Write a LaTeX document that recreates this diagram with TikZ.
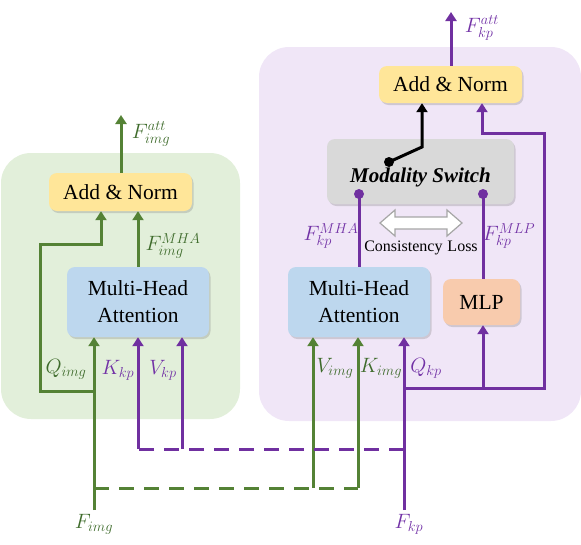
\documentclass[tikz,border=0pt]{standalone}
\usepackage{fontspec}
\setmainfont{Liberation Serif}
\usetikzlibrary{arrows.meta,shadows,calc}
\definecolor{gline}{HTML}{548235}
\definecolor{pline}{HTML}{7030A0}
\definecolor{gtext}{HTML}{3E6B2B}
\definecolor{ptext}{HTML}{7232A6}
\definecolor{gbg}{HTML}{E2EFDA}
\definecolor{pbg}{HTML}{F0E6F7}
\definecolor{yfill}{HTML}{FFE699}
\definecolor{bfill}{HTML}{BDD7EE}
\definecolor{ofill}{HTML}{F8CBAD}
\definecolor{sfill}{HTML}{D9D9D9}
\begin{document}
\begin{tikzpicture}[x=1pt,y=-1pt,
  box/.style={rounded corners=8pt, inner sep=0pt, align=center,
    font=\fontsize{21.5}{24}\selectfont,
    drop shadow={shadow xshift=1.5pt, shadow yshift=-2pt, opacity=0.3}},
  gl/.style={draw=gline, line width=3pt, line join=miter},
  pl/.style={draw=pline, line width=3pt, line join=miter},
  tip/.style={-{Triangle[width=11pt,length=9pt]}},
  gdash/.style={gl, dash pattern=on 15pt off 10pt},
  pdash/.style={pl, dash pattern=on 15pt off 10pt},
  glab/.style={text=gtext, font=\fontsize{21}{24}\selectfont, inner sep=0pt},
  plab/.style={text=ptext, font=\fontsize{21}{24}\selectfont, inner sep=0pt},
]
\useasboundingbox (0,0) rectangle (581,544);
% backgrounds
\fill[gbg, rounded corners=30pt] (1,153) rectangle (240,419);
\fill[pbg, rounded corners=30pt] (259,47) rectangle (581,421);

% boxes
\node[box, fill=yfill, minimum width=143pt, minimum height=38pt] (an1) at (120.5,192) {Add \& Norm};
\node[box, fill=bfill, minimum width=142pt, minimum height=70pt] (mha1) at (138,302) {Multi-Head\\[3pt]Attention};
\node[box, fill=yfill, minimum width=143pt, minimum height=37pt] (an2) at (450.5,84.5) {Add \& Norm};
\node[box, fill=sfill, minimum width=187pt, minimum height=65pt] (ms) at (420.5,171.5) {};
\node[font=\fontsize{21}{24}\selectfont\bfseries\itshape, inner sep=0pt] (mstext) at (420.5,177) {Modality Switch};
\node[box, fill=bfill, minimum width=142pt, minimum height=70pt] (mha2) at (359,302) {Multi-Head\\[3pt]Attention};
\node[box, fill=ofill, minimum width=77pt, minimum height=46pt] (mlp) at (481.5,302) {MLP};

% coordinates
\coordinate (fimg) at (94,510);
\coordinate (fkp) at (404,510);
\coordinate (out1) at (121,115);
\coordinate (out2) at (451,12);
\coordinate (qsplit) at (94,391);
\coordinate (rl1) at (40,391);
\coordinate (rl2) at (40,244);
\coordinate (rl3) at (101,244);
\coordinate (gd1) at (94,488);
\coordinate (gd2) at (313,488);
\coordinate (gd3) at (358,488);
\coordinate (pd0) at (404,449);
\coordinate (pd1) at (182,449);
\coordinate (pd2) at (138,449);
\coordinate (rr0) at (404,388);
\coordinate (rr1) at (483,388);
\coordinate (rr2) at (544,388);
\coordinate (rr3) at (544,133);
\coordinate (rr4) at (482,133);
\coordinate (dmha) at (359,194);
\coordinate (dmlp) at (483,194);
\coordinate (dsw) at (389,162);
\coordinate (swk) at (422,147);

% left block connectors
\draw[gl, tip] (an1.north -| out1) -- (out1);
\draw[gl, tip] (mha1.north) -- (an1.south -| mha1.north);
\draw[gl, tip] (fimg) -- (fimg |- mha1.south);
\draw[gl, tip] (qsplit) -- (rl1) -- (rl2) -- (rl3) -- (rl3 |- an1.south);
\draw[gdash] (gd1) -- (gd3);
\draw[gl, tip] (gd3) -- (gd3 |- mha2.south);
\draw[gl, tip] (gd2) -- (gd2 |- mha2.south);

% purple inputs
\draw[pl, tip] (fkp) -- (fkp |- mha2.south);
\draw[pdash] (pd0) -- (pd2);
\draw[pl, tip] (pd2) -- (pd2 |- mha1.south);
\draw[pl, tip] (pd1) -- (pd1 |- mha1.south);

% right block connectors
\draw[pl, tip] (an2.north -| out2) -- (out2);
\draw[pl, tip] (rr0) -- (rr2) -- (rr3) -- (rr4) -- (rr4 |- an2.south);
\draw[pl, tip] (rr1) -- (rr1 |- mlp.south);
\draw[pl] (mha2.north -| dmha) -- (dmha);
\draw[pl] (mlp.north -| dmlp) -- (dmlp);
\fill[pline] (dmha) circle (5pt);
\fill[pline] (dmlp) circle (5pt);
\draw[line width=3pt, black, tip, line join=miter] (dsw) -- (swk) -- (swk |- an2.south);
\fill[black] (dsw) circle (5pt);

% consistency double arrow
\draw[draw=black!35, fill=white, line width=1.2pt, line join=miter]
  (380,223) -- (395,210) -- (395,217) -- (447,217) -- (447,210) -- (462,223)
  -- (447,236) -- (447,229) -- (395,229) -- (395,236) -- cycle;
\node[font=\fontsize{16}{19}\selectfont, inner sep=0pt] (cl) at (421,248) {Consistency\hspace{5pt}Loss};

% labels
\node[glab] (lfatt) at (151,134) {$F_{img}^{att}$};
\node[glab] (lfmha) at (173,246) {$F_{img}^{MHA}$};
\node[glab] (lq) at (66,369) {$Q_{img}$};
\node[plab] (lk) at (118,370) {$K_{kp}$};
\node[plab] (lv) at (163,370) {$V_{kp}$};
\node[plab] (lkatt) at (482,28) {$F_{kp}^{att}$};
\node[plab] (lkmha) at (331,236) {$F_{kp}^{MHA}$};
\node[plab] (lkmlp) at (509,236) {$F_{kp}^{MLP}$};
\node[glab] (lvi) at (335,368) {$V_{img}$};
\node[glab] (lki) at (381,368) {$K_{img}$};
\node[plab] (lqk) at (426,368) {$Q_{kp}$};
\node[glab] (lfimg) at (94,524) {$F_{img}$};
\node[plab] (lfkp) at (409,524) {$F_{kp}$};
\end{tikzpicture}
\end{document}
